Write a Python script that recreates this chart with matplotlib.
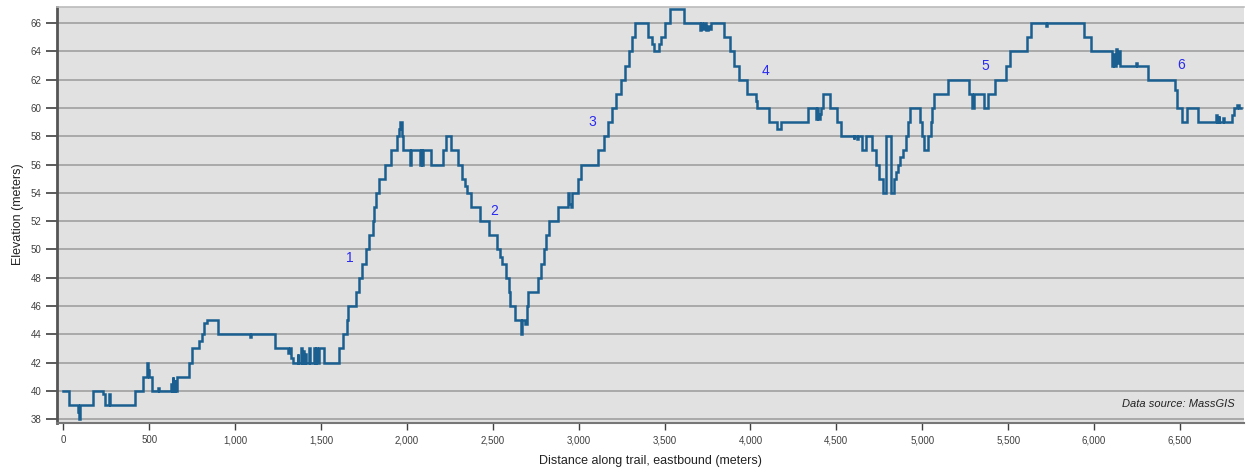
import matplotlib
matplotlib.use("Agg")
import matplotlib.pyplot as plt
from matplotlib.ticker import FuncFormatter, MultipleLocator

plt.rcParams['font.family'] = ['Liberation Sans', 'DejaVu Sans']

# Step profile: distance (m) where each elevation level starts, elevation (m)
dist = [0, 35, 85, 90, 97, 171, 233, 242, 268, 274, 417, 462, 486, 490, 496, 500,
        516, 550, 556, 625, 630, 637, 641, 648, 652, 660, 731, 752, 791, 805, 818,
        834, 898, 1085, 1095, 1235, 1310, 1318, 1325, 1338, 1365, 1369, 1384, 1389,
        1398, 1402, 1409, 1413, 1432, 1437, 1462, 1466, 1470, 1474, 1489, 1518,
        1605, 1628, 1650, 1660, 1706, 1722, 1741, 1762, 1782, 1800, 1810, 1820,
        1840, 1872, 1906, 1940, 1955, 1962, 1972, 1978, 2016, 2024, 2078, 2084,
        2090, 2096, 2142, 2210, 2229, 2258, 2300, 2318, 2340, 2352, 2375, 2423,
        2478, 2522, 2540, 2553, 2575, 2592, 2602, 2627, 2664, 2670, 2690, 2697,
        2705, 2762, 2782, 2797, 2811, 2825, 2879, 2935, 2945, 2955, 2962, 2996,
        3013, 3112, 3148, 3172, 3195, 3220, 3245, 3272, 3294, 3310, 3326, 3404,
        3425, 3440, 3470, 3478, 3505, 3530, 3615, 3705, 3712, 3720, 3730, 3740,
        3750, 3760, 3770, 3848, 3880, 3905, 3932, 3980, 4030, 4040, 4105, 4155,
        4175, 4332, 4380, 4388, 4394, 4402, 4410, 4422, 4462, 4503, 4528, 4600,
        4605, 4620, 4625, 4650, 4670, 4705, 4728, 4750, 4772, 4786, 4817, 4838,
        4846, 4860, 4870, 4890, 4905, 4918, 4928, 4984, 4998, 5008, 5032, 5048,
        5058, 5068, 5150, 5270, 5290, 5300, 5358, 5385, 5422, 5485, 5510, 5610,
        5630, 5722, 5728, 5940, 5984, 6105, 6112, 6118, 6125, 6132, 6140, 6150,
        6245, 6250, 6312, 6472, 6484, 6514, 6543, 6605, 6712, 6718, 6725, 6730,
        6752, 6756, 6800, 6815, 6830, 6845, 6858]
elev = [40, 39, 38.5, 38, 39, 40, 39.8, 39, 39.8, 39, 40, 41, 41.5, 42, 41.5, 41,
        40, 40.2, 40, 40.5, 40, 41, 40, 40.8, 40, 41, 42, 43, 43.5, 44, 44.8,
        45, 44, 43.8, 44, 43, 42.7, 43, 42.3, 42, 42.6, 42, 43, 42,
        42.8, 42, 42.6, 42, 43, 42, 43, 42, 43, 42, 43, 42,
        43, 44, 45, 46, 47, 48, 49, 50, 51, 52, 53, 54,
        55, 56, 57, 58, 58.5, 59, 58, 57, 56, 57, 56, 57,
        56, 57, 56, 57, 58, 57, 56, 55, 54.5, 54, 53, 52,
        51, 50, 49.5, 49, 48, 47, 46, 45, 44, 45, 44.7, 46,
        47, 48, 49, 50, 51, 52, 53, 54, 53.2, 53, 54, 55,
        56, 57, 58, 59, 60, 61, 62, 63, 64, 65, 66, 65,
        64.5, 64, 64.5, 65, 66, 67, 66, 65.5, 66, 65.6, 66, 65.5,
        65.8, 65.6, 66, 65, 64, 63, 62, 61, 60.5, 60, 59, 58.5,
        59, 60, 59.2, 60, 59.2, 59.6, 60, 61, 60, 59, 58, 57.8,
        58, 57.8, 58, 57, 58, 57, 56, 55, 54, 58, 54, 55,
        55.5, 56, 56.5, 57, 58, 59, 60, 59, 58, 57, 58, 59,
        60, 61, 62, 61, 60, 61, 60, 61, 62, 63, 64, 65,
        66, 65.8, 66, 65, 64, 63, 63.8, 63, 64.2, 63.2, 64, 63,
        63.2, 63, 62, 61.3, 60, 59, 60, 59, 59.5, 59, 59.4, 59,
        59.3, 59, 59.5, 60, 60.2, 60, 60]

# Numbered markers along the trail
marker_labels = ["1", "2", "3", "4", "5", "6"]
marker_dist = [1667, 2511, 3080, 4086, 5366, 6506]
marker_elev = [49.4, 52.75, 59.0, 62.6, 63.0, 63.05]

x_ticks = list(range(0, 7000, 500))
y_ticks = list(range(38, 68, 2))

fig = plt.figure(figsize=(12.47, 4.67), dpi=100)
ax = fig.add_axes([0.0455, 0.095, 0.952, 0.891])
ax.set_facecolor('#e1e1e1')

ax.plot(dist, elev, drawstyle='steps-post', color='#1a5f8f', lw=1.8,
        solid_joinstyle='miter', zorder=3)

for lab, d, e in zip(marker_labels, marker_dist, marker_elev):
    ax.text(d, e, lab, color='#2a2af0', fontsize=10, ha='center', va='center', zorder=4)

ax.text(0.992, 0.045, "Data source: MassGIS", transform=ax.transAxes,
        ha='right', va='center', fontsize=8, style='italic', color='#222222')

ax.set_xlim(-38, 6872)
ax.set_ylim(37.76, 67.17)
ax.set_xticks(x_ticks)
ax.set_yticks(y_ticks)
ax.xaxis.set_major_formatter(FuncFormatter(lambda v, p: f"{int(v):,}"))
ax.yaxis.grid(True, color='#a0a0a0', lw=1.2, zorder=1)
ax.set_axisbelow(True)

ax.tick_params(axis='both', labelsize=7, labelcolor='#404040', color='#404040')
ax.tick_params(axis='y', length=8, width=1.2, pad=3)
ax.tick_params(axis='x', length=5, width=1.0, pad=4)

ax.spines['left'].set_color('#555555')
ax.spines['left'].set_linewidth(2)
ax.spines['bottom'].set_color('#777777')
ax.spines['bottom'].set_linewidth(1.5)
ax.spines['top'].set_color('#bbbbbb')
ax.spines['top'].set_linewidth(1.2)
ax.spines['right'].set_visible(False)

ax.set_xlabel("Distance along trail, eastbound (meters)", fontsize=9, color='#222222', labelpad=7)
ax.set_ylabel("Elevation (meters)", fontsize=9, color='#222222', labelpad=5)

fig.savefig("out.png", dpi=100)
